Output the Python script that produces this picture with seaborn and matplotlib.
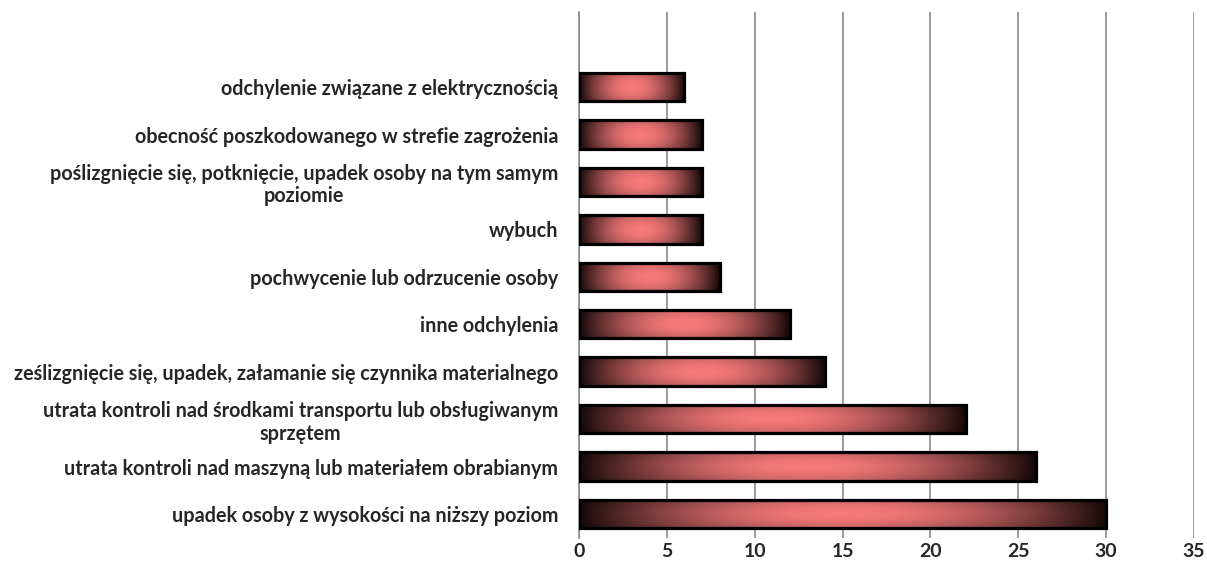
import numpy as np
import pandas as pd
import matplotlib
matplotlib.use("Agg")
import matplotlib.pyplot as plt
import seaborn as sns

categories = [
    "odchylenie związane z elektrycznością",
    "obecność poszkodowanego w strefie zagrożenia",
    "poślizgnięcie się, potknięcie, upadek osoby na tym samym\npoziomie",
    "wybuch",
    "pochwycenie lub odrzucenie osoby",
    "inne odchylenia",
    "ześlizgnięcie się, upadek, załamanie się czynnika materialnego",
    "utrata kontroli nad środkami transportu lub obsługiwanym\nsprzętem",
    "utrata kontroli nad maszyną lub materiałem obrabianym",
    "upadek osoby z wysokości na niższy poziom",
]
values = [6, 7, 7, 7, 8, 12, 14, 22, 26, 30]
x_ticks = [0, 5, 10, 15, 20, 25, 30, 35]

df = pd.DataFrame({"kategoria": categories, "liczba": values})

sns.set_theme(style="white")
plt.rcParams["font.family"] = ["Lato", "DejaVu Sans"]

fig = plt.figure(figsize=(12.07, 5.75), dpi=100)
ax = fig.add_axes([0.4797, 0.0649, 0.5095, 0.914])

sns.barplot(data=df, x="liczba", y="kategoria", orient="h", width=0.6,
            color="#e87474", edgecolor="black", linewidth=2.3, ax=ax, zorder=3)

# Gradient fill: dark at both ends, light pink in the middle, brighter centre line
nx, ny = 256, 64
xs = np.linspace(0, 1, nx)
ys = np.linspace(0, 1, ny)
tx = np.sin(np.pi * xs) ** 0.9
ty = np.sin(np.pi * ys)
dark = np.array([0.08, 0.03, 0.03])
pink = np.array([0.95, 0.47, 0.47])
base = dark[None, :] + (pink - dark)[None, :] * tx[:, None]
shade = 0.80 + 0.22 * ty ** 0.8
img = np.clip(shade[:, None, None] * base[None, :, :], 0, 1)

for patch in ax.patches:
    x0, y0 = patch.get_x(), patch.get_y()
    w, h = patch.get_width(), patch.get_height()
    im = ax.imshow(img, extent=[x0, x0 + w, y0 + h, y0], aspect="auto",
                   interpolation="bilinear", zorder=3.5)
    im.set_clip_path(patch)
    patch.set_facecolor("none")
    patch.set_zorder(4)

ax.set_xlim(0, 35)
ax.set_ylim(len(categories) - 0.5, -1.58)
ax.set_xticks(x_ticks)
ax.set_xticklabels([str(t) for t in x_ticks])
ax.xaxis.grid(True, color="#8a8a8a", linewidth=1.2, zorder=0)
ax.set_axisbelow(True)
ax.set_xlabel("")
ax.set_ylabel("")

for s in ["top", "right", "bottom"]:
    ax.spines[s].set_visible(False)
ax.spines["left"].set_color("#8a8a8a")
ax.spines["left"].set_linewidth(1.2)

ax.tick_params(axis="x", length=0, pad=4, labelsize=14)
ax.tick_params(axis="y", length=0, pad=15, labelsize=14.2)
for lbl in ax.get_xticklabels():
    lbl.set_fontweight("bold")
for lbl in ax.get_yticklabels():
    lbl.set_fontweight("bold")
    lbl.set_multialignment("center")
    lbl.set_linespacing(1.15)

fig.savefig("out.png", dpi=100, facecolor="white")
